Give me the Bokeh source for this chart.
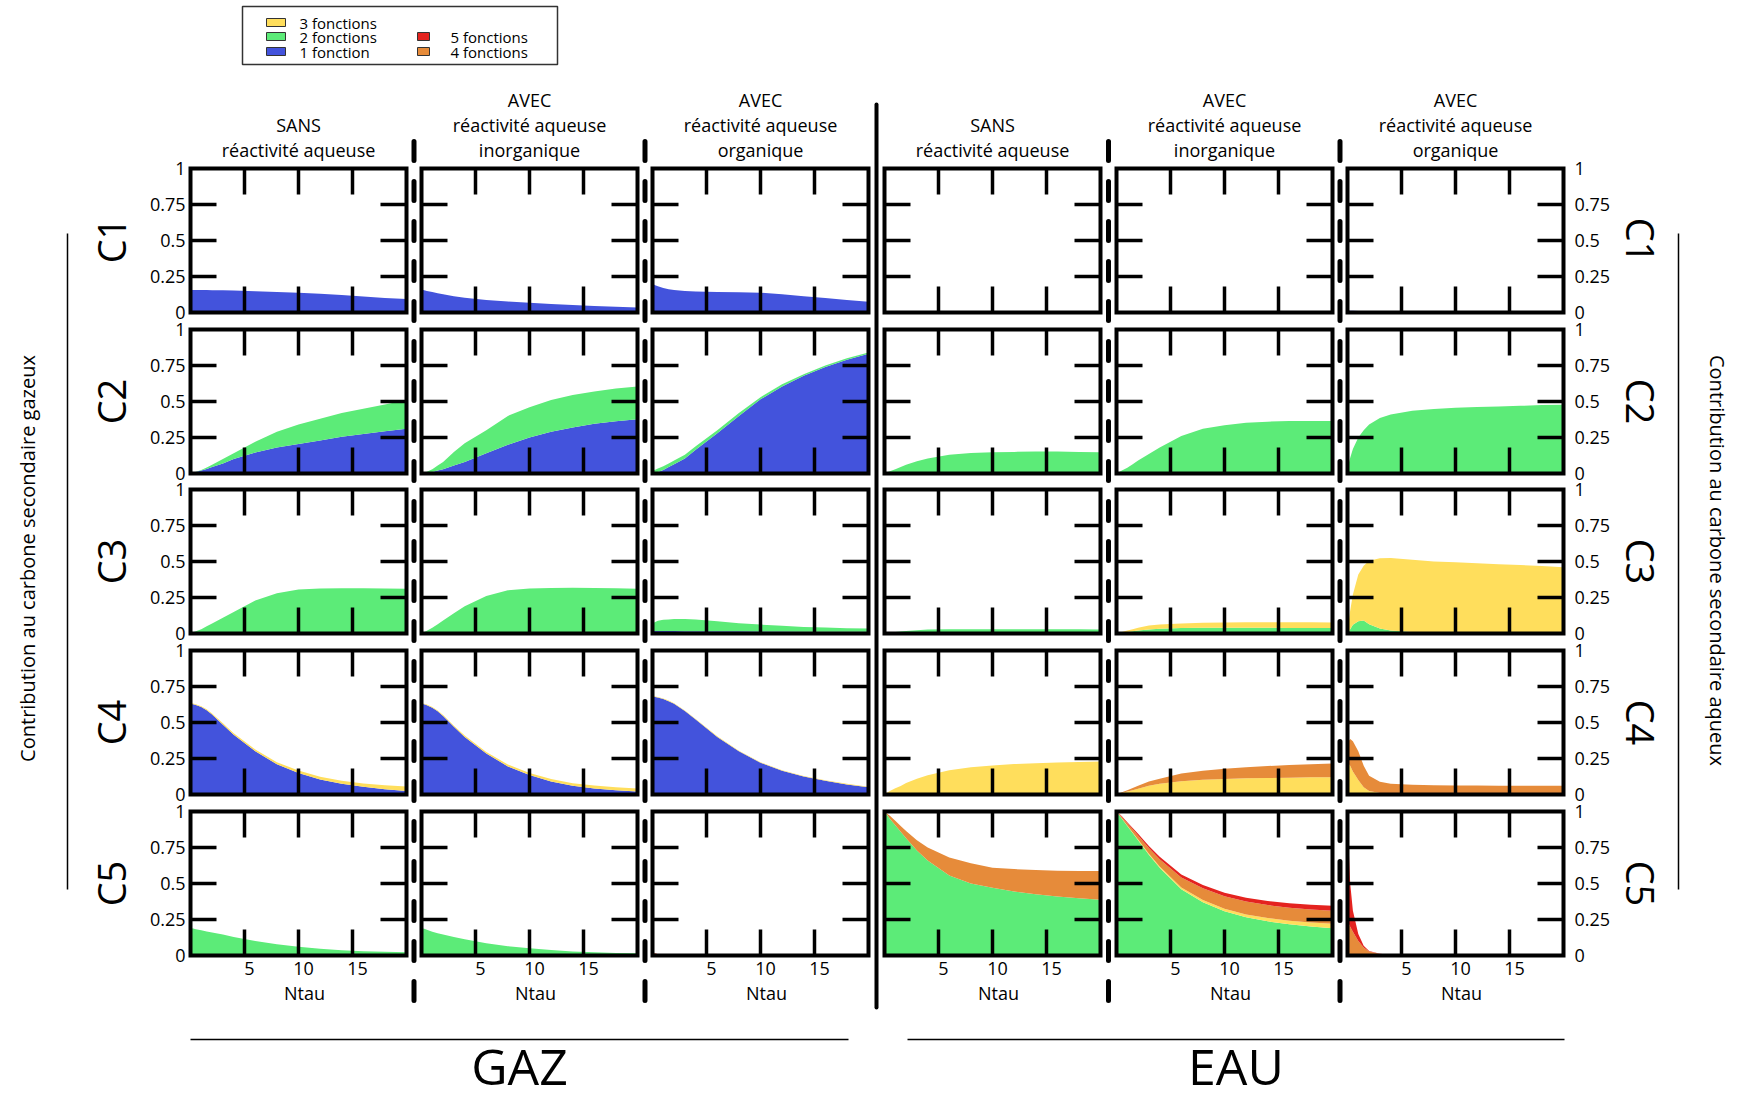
import numpy as np
from bokeh.plotting import figure
from bokeh.models import Range1d
from bokeh.embed import file_html
from bokeh.resources import INLINE
from bokeh.core.properties import value

# ---------------- data ----------------
NTAU = [0, 0.25, 0.5, 1, 1.5, 2, 3, 4, 6, 8, 10, 12, 14, 16, 18, 20]

SERIES_NAMES = ["1 fonction", "2 fonctions", "3 fonctions", "4 fonctions", "5 fonctions"]
SERIES_COLORS = ["#4353DC", "#5CEB78", "#FFDE5C", "#E68B3A", "#E4231F"]

ROW_LABELS = ["C1", "C2", "C3", "C4", "C5"]
COL_HEADERS = [
    ["SANS", "réactivité aqueuse"],
    ["AVEC", "réactivité aqueuse", "inorganique"],
    ["AVEC", "réactivité aqueuse", "organique"],
    ["SANS", "réactivité aqueuse"],
    ["AVEC", "réactivité aqueuse", "inorganique"],
    ["AVEC", "réactivité aqueuse", "organique"],
]
Y_TICKS = [0, 0.25, 0.5, 0.75, 1]
Y_TICK_LABELS = ["0", "0.25", "0.5", "0.75", "1"]
X_TICKS = [5, 10, 15]
X_TICK_LABELS = ["5", "10", "15"]
X_LABEL = "Ntau"
GROUP_LABELS = ["GAZ", "EAU"]
SIDE_TITLES = ["Contribution au carbone secondaire gazeux",
               "Contribution au carbone secondaire aqueux"]

# layer thickness of each series (1..5 fonctions), per panel
# C1
c1_gaz_sans_f1 = [0.157, 0.157, 0.157, 0.156, 0.156, 0.155, 0.154, 0.152, 0.147, 0.142, 0.137, 0.13, 0.121, 0.111, 0.101, 0.093]
c1_gaz_inorg_f1 = [0.16, 0.155, 0.15, 0.142, 0.134, 0.127, 0.113, 0.102, 0.087, 0.076, 0.067, 0.059, 0.052, 0.046, 0.04, 0.035]
c1_gaz_org_f1 = [0.2, 0.19, 0.182, 0.17, 0.162, 0.156, 0.149, 0.146, 0.143, 0.141, 0.137, 0.127, 0.113, 0.1, 0.087, 0.075]
c1_eau_inorg_f1 = [0.004, 0.004, 0.004, 0.004, 0.004, 0.004, 0.004, 0.004, 0.004, 0.004, 0.004, 0.004, 0.004, 0.004, 0.004, 0.004]
c1_eau_org_f1 = [0.012, 0.012, 0.012, 0.011, 0.01, 0.009, 0.007, 0.005, 0.003, 0.002, 0.001, 0.001, 0.001, 0.001, 0.001, 0.001]
# C2
c2_gaz_sans_f1 = [0, 0.005, 0.01, 0.02, 0.032, 0.045, 0.07, 0.1, 0.145, 0.18, 0.205, 0.23, 0.255, 0.275, 0.293, 0.31]
c2_gaz_sans_f2 = [0, 0.001, 0.002, 0.005, 0.01, 0.015, 0.03, 0.04, 0.075, 0.11, 0.135, 0.15, 0.165, 0.175, 0.187, 0.2]
c2_gaz_inorg_f1 = [0, 0.002, 0.004, 0.01, 0.02, 0.03, 0.055, 0.08, 0.14, 0.2, 0.25, 0.29, 0.32, 0.345, 0.362, 0.377]
c2_gaz_inorg_f2 = [0, 0.004, 0.008, 0.02, 0.035, 0.05, 0.095, 0.13, 0.16, 0.2, 0.21, 0.22, 0.225, 0.225, 0.228, 0.228]
c2_gaz_org_f1 = [0, 0.004, 0.01, 0.025, 0.045, 0.065, 0.105, 0.165, 0.28, 0.4, 0.515, 0.605, 0.678, 0.74, 0.79, 0.832]
c2_gaz_org_f2 = [0.02, 0.022, 0.024, 0.025, 0.025, 0.025, 0.025, 0.025, 0.02, 0.02, 0.015, 0.015, 0.012, 0.01, 0.01, 0.008]
c2_eau_sans_f2 = [0, 0.008, 0.015, 0.03, 0.045, 0.06, 0.085, 0.105, 0.13, 0.143, 0.148, 0.15, 0.152, 0.152, 0.15, 0.148]
c2_eau_inorg_f2 = [0, 0.01, 0.02, 0.04, 0.065, 0.09, 0.135, 0.18, 0.26, 0.31, 0.335, 0.352, 0.36, 0.364, 0.365, 0.365]
c2_eau_org_f1 = [0.003, 0.005, 0.007, 0.01, 0.01, 0.01, 0.01, 0.01, 0.009, 0.008, 0.007, 0.006, 0.005, 0.005, 0.004, 0.004]
c2_eau_org_f2 = [0.037, 0.105, 0.163, 0.24, 0.29, 0.33, 0.375, 0.4, 0.426, 0.44, 0.449, 0.455, 0.46, 0.465, 0.471, 0.474]
# C3
c3_gaz_sans_f1 = [0.005] * 16
c3_gaz_sans_f2 = [0, 0.004, 0.01, 0.025, 0.045, 0.065, 0.105, 0.145, 0.225, 0.275, 0.3, 0.308, 0.31, 0.31, 0.308, 0.305]
c3_gaz_inorg_f1 = [0.005] * 16
c3_gaz_inorg_f2 = [0, 0.006, 0.014, 0.035, 0.06, 0.085, 0.135, 0.185, 0.255, 0.295, 0.307, 0.311, 0.312, 0.311, 0.309, 0.305]
c3_gaz_org_f1 = [0.018, 0.018, 0.018, 0.017, 0.017, 0.017, 0.016, 0.016, 0.015, 0.015, 0.014, 0.014, 0.013, 0.013, 0.012, 0.012]
c3_gaz_org_f2 = [0.052, 0.062, 0.07, 0.078, 0.081, 0.083, 0.084, 0.081, 0.07, 0.057, 0.048, 0.039, 0.033, 0.028, 0.025, 0.023]
c3_eau_sans_f2 = [0, 0.003, 0.005, 0.01, 0.014, 0.018, 0.023, 0.027, 0.03, 0.03, 0.03, 0.03, 0.03, 0.029, 0.029, 0.028]
c3_eau_inorg_f2 = [0, 0.003, 0.005, 0.01, 0.015, 0.02, 0.028, 0.033, 0.038, 0.04, 0.04, 0.04, 0.04, 0.039, 0.039, 0.038]
c3_eau_inorg_f3 = [0, 0.002, 0.005, 0.01, 0.015, 0.02, 0.027, 0.03, 0.032, 0.034, 0.037, 0.038, 0.038, 0.039, 0.039, 0.039]
c3_eau_org_f2 = [0, 0.03, 0.06, 0.085, 0.09, 0.065, 0.035, 0.02, 0.01, 0.006, 0.004, 0.003, 0.003, 0.003, 0.003, 0.003]
c3_eau_org_f3 = [0.02, 0.13, 0.21, 0.325, 0.38, 0.44, 0.488, 0.504, 0.502, 0.494, 0.491, 0.485, 0.478, 0.472, 0.465, 0.457]
# C4
c4_gaz_sans_f1 = [0.63, 0.627, 0.622, 0.607, 0.585, 0.555, 0.485, 0.415, 0.3, 0.21, 0.15, 0.105, 0.075, 0.053, 0.037, 0.025]
c4_gaz_sans_f3 = [0.005, 0.005, 0.005, 0.006, 0.007, 0.008, 0.009, 0.01, 0.012, 0.014, 0.016, 0.018, 0.021, 0.024, 0.027, 0.03]
c4_gaz_inorg_f1 = [0.63, 0.626, 0.62, 0.603, 0.578, 0.545, 0.47, 0.4, 0.285, 0.195, 0.135, 0.09, 0.06, 0.042, 0.03, 0.02]
c4_gaz_inorg_f3 = [0.004, 0.004, 0.005, 0.005, 0.006, 0.007, 0.008, 0.009, 0.011, 0.013, 0.015, 0.017, 0.018, 0.02, 0.021, 0.022]
c4_gaz_org_f1 = [0.68, 0.677, 0.673, 0.663, 0.648, 0.63, 0.58, 0.52, 0.4, 0.3, 0.22, 0.165, 0.125, 0.095, 0.07, 0.05]
c4_gaz_org_f3 = [0.004] * 16
c4_eau_sans_f2 = [0.004] * 16
c4_eau_sans_f3 = [0, 0.01, 0.02, 0.04, 0.055, 0.075, 0.105, 0.13, 0.165, 0.185, 0.198, 0.207, 0.213, 0.218, 0.222, 0.225]
c4_eau_inorg_f3 = [0, 0.005, 0.01, 0.02, 0.03, 0.04, 0.06, 0.075, 0.092, 0.102, 0.108, 0.112, 0.115, 0.117, 0.119, 0.12]
c4_eau_inorg_f4 = [0, 0.003, 0.005, 0.01, 0.015, 0.02, 0.03, 0.035, 0.053, 0.063, 0.07, 0.078, 0.083, 0.088, 0.091, 0.095]
c4_eau_org_f3 = [0.22, 0.2, 0.16, 0.1, 0.05, 0.025, 0.01, 0.005, 0.003, 0.003, 0.003, 0.003, 0.003, 0.003, 0.003, 0.003]
c4_eau_org_f4 = [0.14, 0.185, 0.21, 0.2, 0.15, 0.105, 0.078, 0.07, 0.064, 0.061, 0.06, 0.059, 0.058, 0.058, 0.057, 0.057]
# C5
c5_gaz_sans_f1 = [0.01, 0.005, 0.002, 0, 0, 0, 0, 0, 0, 0, 0, 0, 0, 0, 0, 0]
c5_gaz_sans_f2 = [0.18, 0.182, 0.181, 0.175, 0.167, 0.16, 0.145, 0.128, 0.1, 0.078, 0.06, 0.047, 0.037, 0.03, 0.026, 0.023]
c5_gaz_inorg_f2 = [0.19, 0.185, 0.178, 0.165, 0.155, 0.145, 0.128, 0.112, 0.085, 0.065, 0.05, 0.038, 0.028, 0.022, 0.018, 0.016]
c5_gaz_org_f2 = [0.02, 0.012, 0.006, 0.003, 0.002, 0.001, 0.001, 0.001, 0.001, 0.001, 0.001, 0.001, 0.001, 0.001, 0.001, 0.001]
c5_gaz_org_f5 = [0.003] * 16
c5_eau_sans_f2 = [1.0, 0.975, 0.95, 0.905, 0.86, 0.815, 0.73, 0.66, 0.555, 0.5, 0.47, 0.445, 0.425, 0.41, 0.398, 0.388]
c5_eau_sans_f4 = [0, 0.01, 0.02, 0.03, 0.04, 0.05, 0.07, 0.09, 0.125, 0.14, 0.14, 0.155, 0.168, 0.179, 0.189, 0.198]
c5_eau_inorg_f2 = [1.0, 0.975, 0.95, 0.9, 0.85, 0.8, 0.7, 0.61, 0.46, 0.37, 0.307, 0.265, 0.237, 0.217, 0.202, 0.19]
c5_eau_inorg_f3 = [0, 0.001, 0.002, 0.003, 0.004, 0.005, 0.006, 0.008, 0.012, 0.015, 0.017, 0.02, 0.023, 0.025, 0.027, 0.03]
c5_eau_inorg_f4 = [0, 0.005, 0.01, 0.015, 0.022, 0.028, 0.04, 0.05, 0.07, 0.082, 0.088, 0.09, 0.09, 0.09, 0.09, 0.09]
c5_eau_inorg_f5 = [0, 0.003, 0.005, 0.008, 0.01, 0.012, 0.015, 0.018, 0.02, 0.022, 0.023, 0.026, 0.029, 0.031, 0.033, 0.035]
c5_eau_org_f2 = [0.02, 0.01, 0.005, 0.002, 0.001, 0, 0, 0, 0, 0, 0, 0, 0, 0, 0, 0]
c5_eau_org_f4 = [0.22, 0.19, 0.16, 0.098, 0.054, 0.028, 0.01, 0.004, 0.002, 0.001, 0.001, 0.001, 0.001, 0.001, 0.001, 0.001]
c5_eau_org_f5 = [0.7, 0.3, 0.145, 0.05, 0.012, 0.004, 0.002, 0.002, 0.002, 0.002, 0.002, 0.002, 0.002, 0.002, 0.002, 0.002]

COLS = ["gaz_sans", "gaz_inorg", "gaz_org", "eau_sans", "eau_inorg", "eau_org"]
_g = globals()
PANEL_DATA = {}
for r in range(5):
    for c, cname in enumerate(COLS):
        d = {}
        for k in range(1, 6):
            key = f"c{r+1}_{cname}_f{k}"
            if key in _g:
                d[k] = _g[key]
        PANEL_DATA[(r, c)] = d

# ---------------- layout (pixel geometry, page coordinates) ----------------
W, H = 1740, 1099
PANEL_LEFT = [190, 421, 652, 884, 1116, 1347]
PANEL_TOP = [168, 329, 489, 650, 811]
PW, PH = 216, 144
TICK_PX = 26
FONT = value("Open Sans")

p = figure(width=W, height=H, x_range=Range1d(0, W), y_range=Range1d(H, 0),
           x_axis_location=None, y_axis_location=None, output_backend="svg",
           toolbar_location=None, min_border=0, outline_line_color=None)
p.grid.grid_line_color = None
p.background_fill_color = "white"
p.border_fill_color = "white"

tdx = TICK_PX / PW * 20
tdy = TICK_PX / PH

for r in range(5):
    for c in range(6):
        L, T = PANEL_LEFT[c], PANEL_TOP[r]
        sub = p.subplot(x_source=Range1d(0, 20), y_source=Range1d(0, 1),
                        x_target=Range1d(L, L + PW), y_target=Range1d(T + PH, T))
        base = np.zeros(len(NTAU))
        for k, vals in sorted(PANEL_DATA[(r, c)].items()):
            top = base + np.array(vals, dtype=float)
            sub.varea(x=NTAU, y1=base, y2=top, fill_color=SERIES_COLORS[k - 1])
            base = top
        yt = [t for t in Y_TICKS if 0 < t < 1]
        sub.segment(x0=[0] * 3 + [20 - tdx] * 3, x1=[tdx] * 3 + [20] * 3,
                    y0=yt + yt, y1=yt + yt, line_color="black", line_width=3.5)
        sub.segment(x0=X_TICKS + X_TICKS, x1=X_TICKS + X_TICKS,
                    y0=[0] * 3 + [1 - tdy] * 3, y1=[tdy] * 3 + [1] * 3,
                    line_color="black", line_width=3.5)
        sub.quad(left=[0], right=[20], bottom=[0], top=[1], fill_color=None,
                 line_color="black", line_width=4, line_join="miter")
        if c == 0:
            sub.text(x=[-5 / PW * 20] * 5, y=Y_TICKS, text=Y_TICK_LABELS,
                     text_align="right", text_baseline="middle",
                     text_font=FONT, text_font_size="18px", text_color="black")
        if c == 5:
            sub.text(x=[20 + 11 / PW * 20] * 5, y=Y_TICKS, text=Y_TICK_LABELS,
                     text_align="left", text_baseline="middle",
                     text_font=FONT, text_font_size="18px", text_color="black")
        if r == 4:
            sub.text(x=[t + 5 / PW * 20 for t in X_TICKS], y=[-13 / PH] * 3, text=X_TICK_LABELS,
                     text_align="center", text_baseline="middle",
                     text_font=FONT, text_font_size="18px", text_color="black")
            sub.text(x=[10 + 6 / PW * 20], y=[-37 / PH], text=[X_LABEL],
                     text_align="center", text_baseline="middle",
                     text_font=FONT, text_font_size="18px", text_color="black")

# column headers
for c in range(6):
    cx = PANEL_LEFT[c] + PW / 2
    lines = COL_HEADERS[c]
    ys = [149 - 25 * (len(lines) - 1 - i) for i in range(len(lines))]
    p.text(x=[cx] * len(lines), y=ys, text=lines, text_align="center", text_baseline="middle",
           text_font=FONT, text_font_size="18px", text_color="black")

# row labels
for r in range(5):
    cy = PANEL_TOP[r] + PH / 2
    p.text(x=[110], y=[cy], text=[ROW_LABELS[r]], angle=np.pi / 2, text_align="center",
           text_baseline="middle", text_font=FONT, text_font_size="38px", text_color="black")
    p.text(x=[1640], y=[cy], text=[ROW_LABELS[r]], angle=-np.pi / 2, text_align="center",
           text_baseline="middle", text_font=FONT, text_font_size="38px", text_color="black")

# side titles + lines
p.text(x=[27], y=[558], text=[SIDE_TITLES[0]], angle=np.pi / 2, text_align="center",
       text_baseline="middle", text_font=FONT, text_font_size="20px", text_color="black")
p.text(x=[1717], y=[560], text=[SIDE_TITLES[1]], angle=-np.pi / 2, text_align="center",
       text_baseline="middle", text_font=FONT, text_font_size="20px", text_color="black")
p.segment(x0=[67, 1678], x1=[67, 1678], y0=[233, 233], y1=[889, 889],
          line_color="black", line_width=1.5)

# separators
for c in [0, 1, 3, 4]:
    sx = (PANEL_LEFT[c] + PW + PANEL_LEFT[c + 1]) / 2
    p.line(x=[sx, sx], y=[141, 1013], line_color="black", line_width=5,
           line_dash="19 21", line_cap="round")
mx = (PANEL_LEFT[2] + PW + PANEL_LEFT[3]) / 2
p.line(x=[mx, mx], y=[104, 1007], line_color="black", line_width=4, line_cap="round")

# group labels
gx0 = [PANEL_LEFT[0], PANEL_LEFT[3] + 23]
gx1 = [PANEL_LEFT[2] + PW - 20, PANEL_LEFT[5] + PW + 1]
p.segment(x0=gx0, x1=gx1, y0=[1039, 1039], y1=[1039, 1039], line_color="black", line_width=1.5)
p.text(x=[(a + b) / 2 for a, b in zip(gx0, gx1)], y=[1065, 1065], text=GROUP_LABELS,
       text_align="center", text_baseline="middle", text_font=FONT,
       text_font_size="50px", text_color="black")

# legend
p.quad(left=[242], right=[557], top=[6], bottom=[64], fill_color="white",
       line_color="#333333", line_width=1.5)
leg_order = [2, 1, 0, 4, 3]
leg_x = [266, 266, 266, 417, 417]
leg_w = [19, 19, 19, 12, 12]
leg_y = [22, 36, 51, 36, 51]
leg_tx = [299, 299, 299, 450, 450]
for i, k in enumerate(leg_order):
    p.quad(left=[leg_x[i]], right=[leg_x[i] + leg_w[i]], top=[leg_y[i] - 4], bottom=[leg_y[i] + 4],
           fill_color=SERIES_COLORS[k], line_color="#333333", line_width=1)
    p.text(x=[leg_tx[i]], y=[leg_y[i]], text=[SERIES_NAMES[k]], text_align="left",
           text_baseline="middle", text_font=FONT, text_font_size="15px", text_color="black")

open("out.html", "w").write(file_html(p, INLINE))
